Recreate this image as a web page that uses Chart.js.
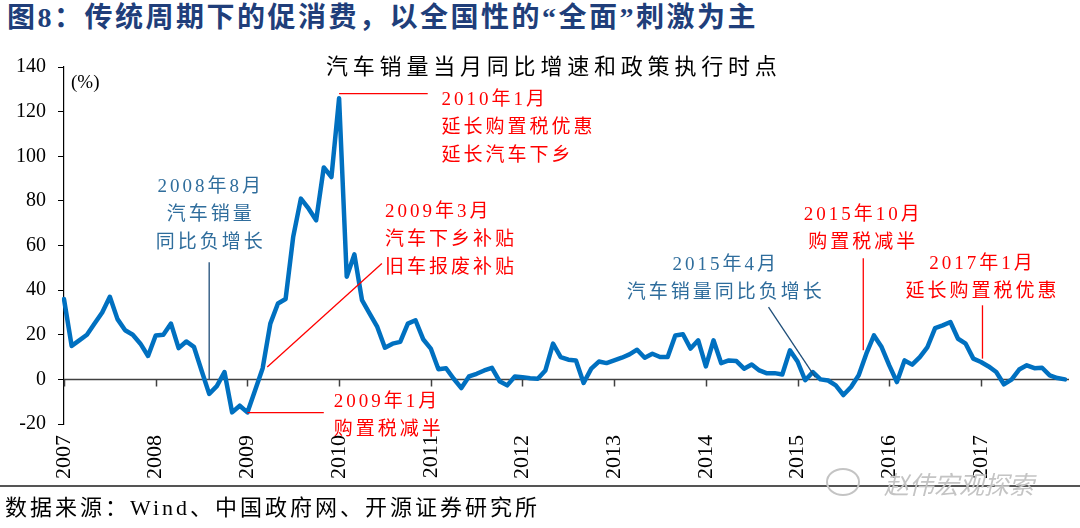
<!doctype html>
<html>

<head>
    <meta charset="utf-8">
    <title>汽车销量当月同比增速和政策执行时点</title>
    <script src="https://cdn.jsdelivr.net/npm/chart.js@4.4.1/dist/chart.umd.min.js"></script>
    <style>
        body {
            margin: 0;
            width: 1080px;
            height: 528px;
            position: relative;
            overflow: hidden;
            background: #fff;
            font-family: 'Liberation Serif', 'Noto Sans CJK SC', serif;
        }

        canvas {
            position: absolute;
            left: 0;
            top: 0;
        }

        #head {
            position: absolute;
            left: 7px;
            top: 2px;
            font-size: 28px;
            line-height: 32px;
            font-weight: bold;
            letter-spacing: 2.5px;
            color: #203e7a;
        }

        #sub {
            position: absolute;
            left: 326px;
            top: 54px;
            font-size: 22px;
            line-height: 26px;
            letter-spacing: 4.8px;
            color: #000;
        }

        #unit {
            position: absolute;
            left: 71px;
            top: 71px;
            font-size: 19px;
            line-height: 22px;
            color: #000;
        }

        #rule {
            position: absolute;
            left: 0;
            top: 485px;
            width: 1080px;
            height: 2px;
            background: #555;
        }

        #src {
            position: absolute;
            left: 5px;
            top: 495px;
            font-size: 22px;
            line-height: 26px;
            letter-spacing: 3px;
            color: #000;
        }

        #wm {
            position: absolute;
            left: 884px;
            top: 468px;
            font-size: 25px;
            line-height: 30px;
            color: #c4c4c4;
            font-family: 'Noto Sans CJK SC', sans-serif;
            font-style: italic;
        }

        #wmicon {
            position: absolute;
            left: 826px;
            top: 468px;
            width: 30px;
            height: 24px;
            border: 2px solid #c4c4c4;
            border-radius: 50%;
        }
    </style>
</head>

<body>
    <div id="head">图8：传统周期下的促消费，以全国性的“全面”刺激为主</div>
    <canvas id="canvas" width="1080" height="528"></canvas>
    <div id="sub">汽车销量当月同比增速和政策执行时点</div>
    <div id="unit">(%)</div>
    <div id="rule"></div>
    <div id="src">数据来源：Wind、中国政府网、开源证券研究所</div>
    <div id="wmicon"></div>
    <div id="wm">赵伟宏观探索</div>
    <script>
        var years = [2007, 2008, 2009, 2010, 2011, 2012, 2013, 2014, 2015, 2016, 2017];

        // 汽车销量当月同比 (%)
        var yoy2007 = [36, 15, 17.5, 20, 25, 30, 37, 27, 22, 20, 16, 10.5];
        var yoy2008 = [19.7, 20, 25, 14, 17, 14.6, 4, -6.5, -3, 3.3, -14.8, -11.8];
        var yoy2009 = [-14.8, -5, 5, 25, 34, 36, 64, 81, 76.6, 71.3, 95, 90.7];
        var yoy2010 = [126, 46, 56, 35.5, 29.5, 23.5, 14.2, 16, 16.8, 25, 26.5, 18];
        var yoy2011 = [13.8, 4.5, 5, 0.3, -3.9, 1.3, 2.5, 4, 5.2, -0.8, -2.7, 1.3];
        var yoy2012 = [1, 0.5, 0.3, 4, 16, 10, 8.8, 8.5, -1.6, 4.8, 8, 7.3];
        var yoy2013 = [8.5, 9.7, 11.2, 13.3, 9.7, 11.5, 10, 10, 19.7, 20.2, 13.8, 17.5];
        var yoy2014 = [5.8, 17.5, 7.3, 8.5, 8.2, 4.8, 6.7, 4, 2.7, 2.8, 2.2, 13];
        var yoy2015 = [8, -0.4, 3.3, 0, -0.5, -2.7, -7, -3.4, 1.8, 11.5, 19.7, 14.5];
        var yoy2016 = [6.3, -1.2, 8.5, 6.6, 10, 14.5, 23, 24.2, 25.7, 18.2, 16, 9.3];
        var yoy2017 = [7.8, 5.8, 3.3, -2.2, -0.1, 4.4, 6.3, 5, 5.2, 1.8, 0.6, 0];

        var yTicks = [-20, 0, 20, 40, 60, 80, 100, 120, 140];

        var months = [];
        years.forEach(function (yr) {
            for (var m = 1; m <= 12; m++) {
                months.push(yr + '-' + (m < 10 ? '0' + m : m));
            }
        });
        var yoy = [].concat(yoy2007, yoy2008, yoy2009, yoy2010, yoy2011, yoy2012,
            yoy2013, yoy2014, yoy2015, yoy2016, yoy2017);

        var RED = '#ff0000';
        var BLUE_TXT = '#2f6d9c';
        var BLUE_LINE = '#1f4e79';

        // notes: at = [month index, value] of the first text line, seg = connector
        var notes = [
            { text: ['2008年8月', '汽车销量', '同比负增长'], color: BLUE_TXT, lineColor: BLUE_LINE, align: 'center', at: [19.2, 86], seg: [[19, 52.5], [19, 0]] },
            { text: ['2010年1月', '延长购置税优惠', '延长汽车下乡'], color: RED, lineColor: RED, align: 'left', at: [49.4, 125], seg: [[36, 128.1], [47.6, 128.1]] },
            { text: ['2009年3月', '汽车下乡补贴', '旧车报废补贴'], color: RED, lineColor: RED, align: 'left', at: [42, 75], seg: [[26.6, 5.5], [41.6, 51.9]] },
            { text: ['2009年1月', '购置税减半'], color: RED, lineColor: RED, align: 'left', at: [35.3, -10.2], seg: [[24, -14.9], [34, -14.9]] },
            { text: ['2015年4月', '汽车销量同比负增长'], color: BLUE_TXT, lineColor: BLUE_LINE, align: 'center', at: [86.6, 51.1], seg: [[92.2, 32.4], [98.3, 1]] },
            { text: ['2015年10月', '购置税减半'], color: RED, lineColor: RED, align: 'center', at: [104.6, 73.5], seg: [[104.6, 54.3], [104.6, 13]] },
            { text: ['2017年1月', '延长购置税优惠'], color: RED, lineColor: RED, align: 'center', at: [120.2, 51.9], seg: [[120.2, 33.2], [120.2, 9.3]] }
        ];

        var FONT = "'Liberation Serif', 'Noto Sans CJK SC', serif";

        var overlay = {
            id: 'overlay',
            beforeDatasetsDraw: function (chart) {
                var ctx = chart.ctx, x = chart.scales.x, y = chart.scales.y, area = chart.chartArea;
                var y0 = y.getPixelForValue(0);
                ctx.save();
                ctx.strokeStyle = '#404040';
                ctx.lineWidth = 1.5;
                ctx.beginPath();
                ctx.moveTo(area.left, y0);
                ctx.lineTo(area.right + 4, y0);
                years.forEach(function (yr, i) {
                    var px = Math.round(x.getPixelForValue(i * 12)) + 0.5;
                    ctx.moveTo(px, y0);
                    ctx.lineTo(px, y0 + 7);
                });
                ctx.stroke();
                ctx.restore();
            },
            afterDatasetsDraw: function (chart) {
                var ctx = chart.ctx, x = chart.scales.x, y = chart.scales.y;
                ctx.save();
                notes.forEach(function (n) {
                    ctx.strokeStyle = n.lineColor;
                    ctx.lineWidth = 1.3;
                    ctx.beginPath();
                    ctx.moveTo(x.getPixelForValue(n.seg[0][0]), y.getPixelForValue(n.seg[0][1]));
                    ctx.lineTo(x.getPixelForValue(n.seg[1][0]), y.getPixelForValue(n.seg[1][1]));
                    ctx.stroke();

                    ctx.fillStyle = n.color;
                    ctx.font = '19px ' + FONT;
                    ctx.letterSpacing = '3px';
                    ctx.textAlign = n.align;
                    ctx.textBaseline = 'middle';
                    var tx = x.getPixelForValue(n.at[0]);
                    var ty = y.getPixelForValue(n.at[1]);
                    n.text.forEach(function (t, k) {
                        ctx.fillText(t, tx, ty + k * 28);
                    });
                    ctx.letterSpacing = '0px';
                });
                ctx.restore();
            }
        };

        window.onload = function () {
            var ctx = document.getElementById('canvas').getContext('2d');
            window.myLine = new Chart(ctx, {
                type: 'line',
                data: {
                    labels: months,
                    datasets: [{
                        label: '汽车销量当月同比',
                        data: yoy,
                        borderColor: '#0070c0',
                        backgroundColor: '#0070c0',
                        borderWidth: 4.5,
                        pointRadius: 0,
                        tension: 0,
                        borderJoinStyle: 'round',
                        borderCapStyle: 'round'
                    }]
                },
                options: {
                    responsive: false,
                    animation: false,
                    devicePixelRatio: 1,
                    layout: {
                        padding: { top: 67, right: 15, bottom: 0, left: 0 }
                    },
                    plugins: {
                        legend: { display: false },
                        title: { display: false },
                        tooltip: { enabled: false }
                    },
                    scales: {
                        x: {
                            type: 'category',
                            offset: false,
                            grid: { display: false, drawTicks: false },
                            border: { display: false },
                            afterFit: function (scale) {
                                scale.height = 104;
                                scale.paddingRight = 0;
                                scale.paddingLeft = 0;
                            },
                            ticks: {
                                autoSkip: false,
                                maxRotation: 90,
                                minRotation: 90,
                                padding: 11,
                                color: '#000',
                                font: { family: 'Liberation Serif', size: 22 },
                                callback: function (val, i) {
                                    return i % 12 === 0 ? months[i].slice(0, 4) : '';
                                }
                            }
                        },
                        y: {
                            min: yTicks[0],
                            max: yTicks[yTicks.length - 1],
                            afterFit: function (scale) { scale.width = 64; },
                            afterBuildTicks: function (scale) {
                                scale.ticks = yTicks.map(function (v) { return { value: v }; });
                            },
                            grid: {
                                drawOnChartArea: false,
                                drawTicks: true,
                                tickLength: 6,
                                color: '#000'
                            },
                            border: { display: true, color: '#000', width: 1.2 },
                            ticks: {
                                padding: 12,
                                color: '#000',
                                font: { family: 'Liberation Serif', size: 20 }
                            }
                        }
                    }
                },
                plugins: [overlay]
            });
        };
    </script>
</body>

</html>
